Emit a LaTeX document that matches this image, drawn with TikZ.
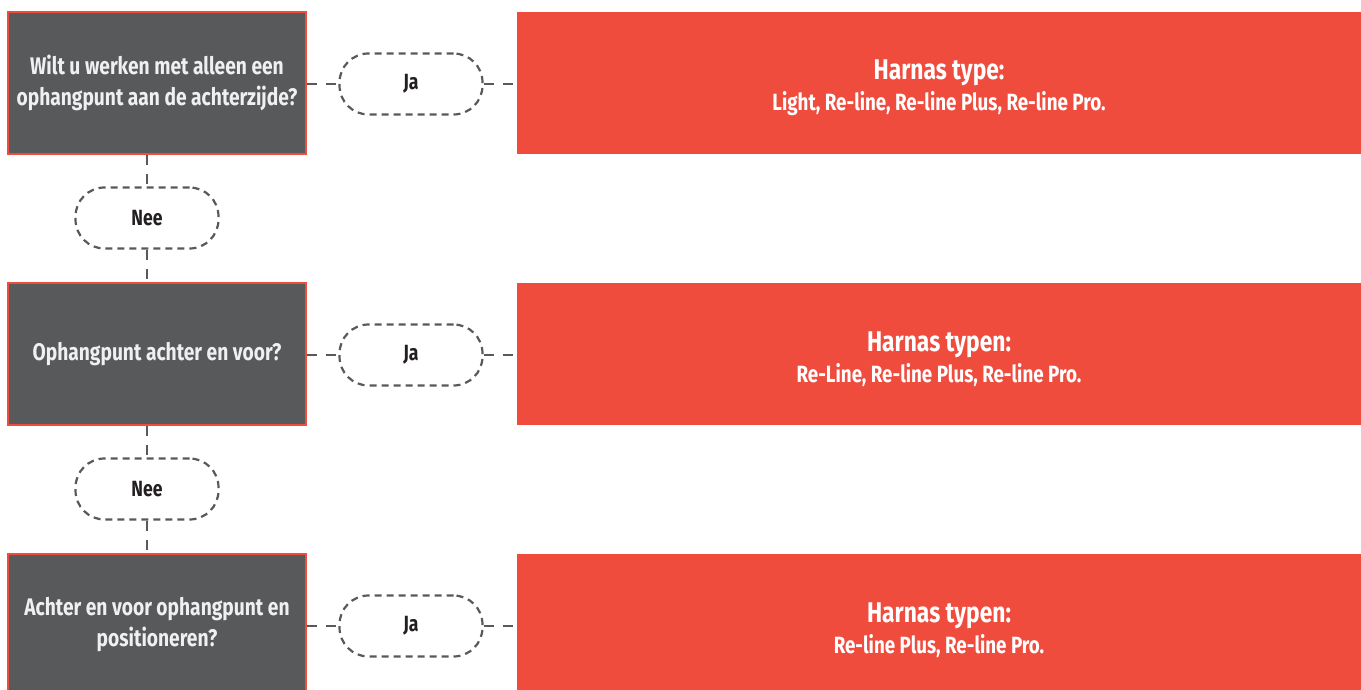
\documentclass[tikz,border=0pt]{standalone}
\usepackage{fontspec}
\setmainfont{Fira Sans}[FakeStretch=0.8]
\usetikzlibrary{positioning}
\definecolor{donkergrijs}{HTML}{58595B}
\definecolor{harnasrood}{HTML}{EF4C3E}
\definecolor{tekstzwart}{HTML}{231F20}
\newcommand{\kop}{\fontsize{28.5}{34}\selectfont}
\newcommand{\lijst}{\fontsize{23.5}{30}\selectfont}

\begin{document}
\begin{tikzpicture}[x=1pt,y=-1pt,
  vraag/.style={draw=harnasrood, line width=2pt, fill=donkergrijs, text=white!94!black,
    minimum width=298pt, minimum height=142pt, align=center, inner sep=0pt,
    font=\bfseries\fontsize{24}{31}\selectfont},
  harnas/.style={fill=harnasrood, minimum width=844pt, minimum height=142pt, inner sep=0pt},
  harnastekst/.style={text=white, align=center, inner sep=0pt, yshift=-5pt, font=\bfseries},
  keuze/.style={draw=donkergrijs, line width=2.2pt, dash pattern=on 7pt off 5pt,
    rounded corners=29pt, minimum width=143pt, minimum height=61pt, inner sep=0pt,
    text=tekstzwart, font=\bfseries\fontsize{22}{24}\selectfont},
  lijn/.style={draw=donkergrijs, line width=2.2pt, dash pattern=on 10pt off 9pt}]
\useasboundingbox (0,0) rectangle (1361,690);

% vragen
\node[vraag] (q1) at (157,83) {Wilt u werken met alleen een\\ophangpunt aan de achterzijde?};
\node[vraag] (q2) at (157,354) {Ophangpunt achter en voor?};
\node[vraag] (q3) at (157,625) {Achter en voor ophangpunt en\\positioneren?};

% harnassen
\node[harnas, label={[harnastekst]center:{\kop Harnas type:\\[5pt]\lijst Light, Re-line, Re-line Plus, Re-line Pro.}}] (h1) at (939,83) {};
\node[harnas, label={[harnastekst]center:{\kop Harnas typen:\\[5pt]\lijst Re-Line, Re-line Plus, Re-line Pro.}}] (h2) at (939,354) {};
\node[harnas, label={[harnastekst]center:{\kop Harnas typen:\\[5pt]\lijst Re-line Plus, Re-line Pro.}}] (h3) at (939,625) {};

% keuzes
\node[keuze] (ja1) at (411,84) {Ja};
\node[keuze] (ja2) at (411,355) {Ja};
\node[keuze] (ja3) at (411,626) {Ja};
\node[keuze] (nee1) at (147,218) {Nee};
\node[keuze] (nee2) at (147,489) {Nee};

% verbindingen
\draw[lijn] (q1.east |- ja1) -- (ja1.west);
\draw[lijn] (ja1.east) -- (h1.west |- ja1);
\draw[lijn] (q2.east |- ja2) -- (ja2.west);
\draw[lijn] (ja2.east) -- (h2.west |- ja2);
\draw[lijn] (q3.east |- ja3) -- (ja3.west);
\draw[lijn] (ja3.east) -- (h3.west |- ja3);
\draw[lijn] (q1.south -| nee1) -- (nee1.north);
\draw[lijn] (nee1.south) -- (q2.north -| nee1);
\draw[lijn] (q2.south -| nee2) -- (nee2.north);
\draw[lijn] (nee2.south) -- (q3.north -| nee2);
\end{tikzpicture}
\end{document}
